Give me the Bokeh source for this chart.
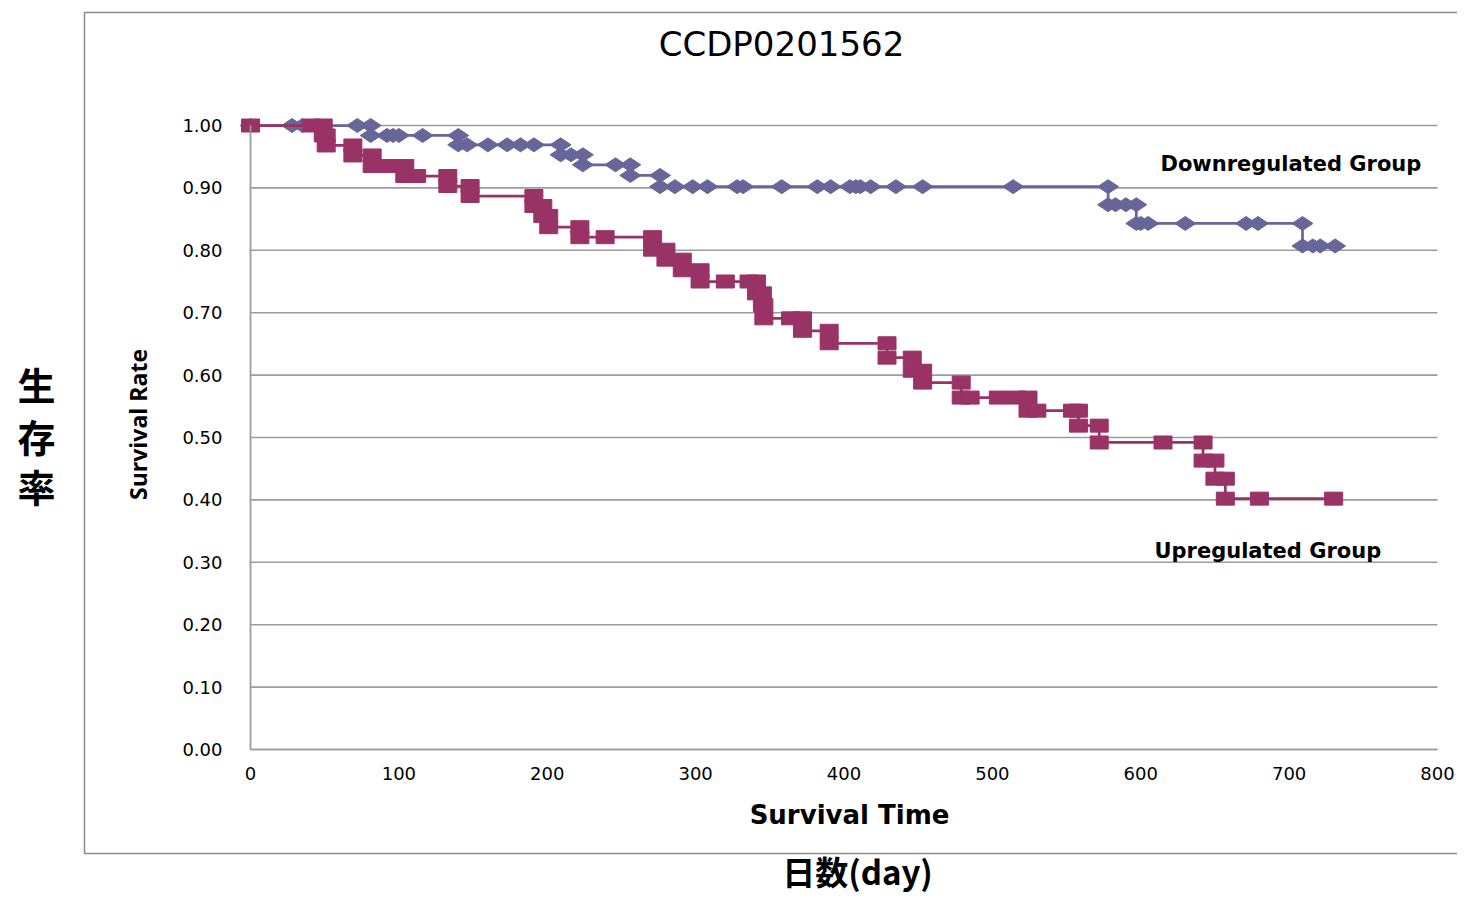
import numpy as np
from bokeh.plotting import figure
from bokeh.models import Range1d, LinearAxis, FixedTicker, NumeralTickFormatter
from bokeh.core.properties import value
from bokeh.embed import file_html
from bokeh.resources import INLINE

# ---------------- data ----------------
title_text = "CCDP0201562"
x_ticks = [0, 100, 200, 300, 400, 500, 600, 700, 800]
y_ticks = [0.0, 0.1, 0.2, 0.3, 0.4, 0.5, 0.6, 0.7, 0.8, 0.9, 1.0]

# Downregulated group (Kaplan-Meier step points)
down_days = [0, 28, 35, 72, 81, 81, 92, 96, 100, 116, 140, 140,
             146, 160, 173, 182, 191, 209, 209, 216, 224, 224, 246, 256, 256,
             276, 276, 286, 298, 308, 328, 332, 358, 382, 391, 404, 408, 411,
             418, 435, 453, 514, 578, 578, 583, 590, 597, 597, 600, 605, 630,
             671, 679, 709, 709, 716, 721, 731]
down_surv = [1.000, 1.000, 1.000, 1.000, 1.000, 0.984, 0.984, 0.984, 0.984, 0.984, 0.984, 0.969,
             0.969, 0.969, 0.969, 0.969, 0.969, 0.969, 0.953, 0.953, 0.953, 0.937, 0.937, 0.937, 0.920,
             0.920, 0.902, 0.902, 0.902, 0.902, 0.902, 0.902, 0.902, 0.902, 0.902, 0.902, 0.902, 0.902,
             0.902, 0.902, 0.902, 0.902, 0.902, 0.873, 0.873, 0.873, 0.873, 0.843, 0.843, 0.843, 0.843,
             0.843, 0.843, 0.843, 0.807, 0.807, 0.807, 0.807]

# Upregulated group
up_days = [0, 41, 49, 49, 51, 51, 69, 69, 82, 82, 94, 104, 104, 112, 133, 133,
           148, 148, 191, 191, 197, 197, 201, 201, 222, 222, 239, 271, 271, 280,
           280, 291, 291, 303, 303, 320, 336, 341, 341, 345, 345, 346, 346, 364,
           372, 372, 390, 390, 429, 429, 446, 446, 453, 453, 479, 479, 485, 504,
           516, 524, 524, 530, 554, 558, 558, 572, 572, 615, 642, 642, 650, 650,
           657, 657, 680, 730]
up_surv = [1.000, 1.000, 1.000, 0.984, 0.984, 0.968, 0.968, 0.952, 0.952, 0.935, 0.935, 0.935, 0.919, 0.919, 0.919, 0.903,
           0.903, 0.887, 0.887, 0.871, 0.871, 0.855, 0.855, 0.837, 0.837, 0.821, 0.821, 0.821, 0.801, 0.801,
           0.785, 0.785, 0.768, 0.768, 0.750, 0.750, 0.750, 0.750, 0.731, 0.731, 0.712, 0.712, 0.691, 0.691,
           0.691, 0.671, 0.671, 0.651, 0.651, 0.628, 0.628, 0.607, 0.607, 0.588, 0.588, 0.564, 0.564, 0.564,
           0.564, 0.564, 0.543, 0.543, 0.543, 0.543, 0.519, 0.519, 0.492, 0.492, 0.492, 0.463, 0.463, 0.434,
           0.434, 0.402, 0.402, 0.402]

assert len(down_days) == len(down_surv)
assert len(up_days) == len(up_surv)

# ---------------- layout helpers (picture pixel -> data) ----------------
W, H = 1457, 899
X0_PX, X800_PX = 250.0, 1437.0     # x pixel of day 0 and day 800
Y0_PX, Y1_PX = 749.0, 125.0        # y pixel of 0.00 and 1.00
SX = (X800_PX - X0_PX) / 800.0
SY = (Y0_PX - Y1_PX) / 1.0


def px2x(px):
    return (px - X0_PX) / SX


def py2y(py):
    return (Y0_PX - py) / SY


p = figure(width=W, height=H, output_backend="svg", toolbar_location=None,
           x_range=Range1d(px2x(0), px2x(W)),
           y_range=Range1d(py2y(H), py2y(0)),
           x_axis_location=None, y_axis_location=None,
           min_border=0, min_border_left=0, min_border_right=0,
           min_border_top=0, min_border_bottom=0)
p.outline_line_color = None
p.background_fill_color = "white"
p.border_fill_color = "white"
p.xgrid.visible = False
p.ygrid.visible = False

GRID = "#9c9c9c"

# outer chart-area box
p.quad(left=px2x(84), right=px2x(1600), top=py2y(12), bottom=py2y(853),
       fill_color=None, line_color="#8a8a8a", line_width=1.5)

# horizontal gridlines
p.segment(x0=0, x1=800, y0=y_ticks, y1=y_ticks, line_color=GRID, line_width=1.6)

# axes (library axes, fixed at the origin)
yaxis = LinearAxis(fixed_location=0, bounds=(0, 1),
                   ticker=FixedTicker(ticks=y_ticks),
                   formatter=NumeralTickFormatter(format="0.00"))
yaxis.axis_line_color = GRID
yaxis.axis_line_width = 1.8
yaxis.major_tick_line_color = None
yaxis.minor_tick_line_color = None
yaxis.major_tick_out = 0
yaxis.major_tick_in = 0
yaxis.major_label_standoff = 28
yaxis.major_label_text_font = "DejaVu Sans"
yaxis.major_label_text_font_size = "18px"
yaxis.major_label_text_color = "black"
p.add_layout(yaxis, "left")

xaxis = LinearAxis(fixed_location=0, bounds=(0, 800),
                   ticker=FixedTicker(ticks=x_ticks))
xaxis.axis_line_color = GRID
xaxis.axis_line_width = 1.6
xaxis.major_tick_line_color = None
xaxis.minor_tick_line_color = None
xaxis.major_tick_out = 0
xaxis.major_tick_in = 0
xaxis.major_label_standoff = 17
xaxis.major_label_text_font = "DejaVu Sans"
xaxis.major_label_text_font_size = "18px"
xaxis.major_label_text_color = "black"
p.add_layout(xaxis, "below")

# series
BLUE = "#666699"
RED = "#993366"
p.line(down_days, down_surv, line_color=BLUE, line_width=2.75)
p.scatter(down_days, down_surv, marker="diamond", size=21, angle=np.pi / 2,
          fill_color=BLUE, line_color=BLUE)
p.line(up_days, up_surv, line_color=RED, line_width=2.75)
p.rect(up_days, up_surv, width=18, height=13, width_units="screen", height_units="screen",
       fill_color=RED, line_color=RED)

# texts
p.text(x=[px2x(781)], y=[py2y(43)], text=[title_text], text_align="center",
       text_baseline="middle", text_font=value("DejaVu Sans"), text_font_size="34px",
       text_color="black")
p.text(x=[px2x(1160)], y=[py2y(163)], text=["Downregulated Group"], text_align="left",
       text_baseline="middle", text_font=value("DejaVu Sans"), text_font_style="bold",
       text_font_size="21px", text_color="black")
p.text(x=[px2x(1154)], y=[py2y(550)], text=["Upregulated Group"], text_align="left",
       text_baseline="middle", text_font=value("DejaVu Sans"), text_font_style="bold",
       text_font_size="21px", text_color="black")
p.text(x=[px2x(849)], y=[py2y(814)], text=["Survival Time"], text_align="center",
       text_baseline="middle", text_font=value("DejaVu Sans"), text_font_style="bold",
       text_font_size="26px", text_color="black")
p.text(x=[px2x(137)], y=[py2y(424)], text=["Survival Rate"], angle=np.pi / 2,
       text_align="center", text_baseline="middle",
       text_font=value("Open Sans"), text_font_style="bold", text_font_size="23px",
       text_color="black")
p.text(x=[px2x(36)] * 3, y=[py2y(383), py2y(435), py2y(485)], text=["生", "存", "率"],
       text_align="center", text_baseline="middle",
       text_font=value("Noto Sans CJK JP"), text_font_style="bold",
       text_font_size="38px", text_color="black")
p.text(x=[px2x(857)], y=[py2y(870)], text=["日数(day)"], text_align="center",
       text_baseline="middle", text_font=value("Noto Sans CJK JP"), text_font_style="bold",
       text_font_size="33px", text_color="black")

open("out.html", "w").write(file_html(p, INLINE))
